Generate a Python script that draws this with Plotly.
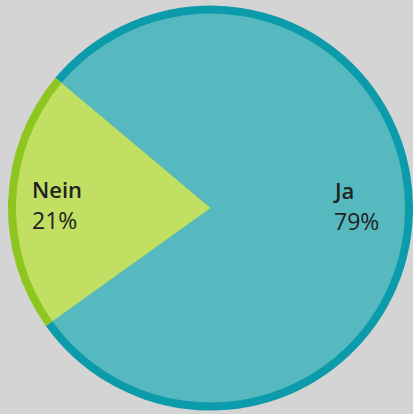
import plotly.graph_objects as go

labels = ["Ja", "Nein"]
values = [79, 21]
fill_colors = ["#55b9bf", "#c0df63"]
ring_colors = ["#0b9baa", "#8ec620"]
name_pos = [(331, 173), (30, 171.5)]   # pixel left/top of name text boxes
pct_pos = [(332, 203), (30, 202)]      # pixel left/top of percent text boxes

W, H = 413, 414
cx, cy = 210.5, 208.0
R_out, ring = 202.5, 8.0
R_in = R_out - ring


def dom(r):
    x0, x1 = (cx - r) / W, min((cx + r) / W, 1.0)
    y0, y1 = 1 - (cy + r) / H, 1 - (cy - r) / H
    return dict(x=[max(x0, 0), x1], y=[max(y0, 0), min(y1, 1)])


common = dict(labels=labels, values=values, sort=False, direction="clockwise",
              rotation=-50, textinfo="none", hoverinfo="label+percent",
              showlegend=False)

fig = go.Figure()
fig.add_trace(go.Pie(**common, domain=dom(R_out),
                     marker=dict(colors=ring_colors, line=dict(width=0))))
fig.add_trace(go.Pie(**common, domain=dom(R_in),
                     marker=dict(colors=fill_colors, line=dict(width=0))))

total = sum(values)
for lab, val, (nx, ny), (px, py) in zip(labels, values, name_pos, pct_pos):
    fig.add_annotation(
        x=nx / W, y=1 - ny / H, xref="paper", yref="paper",
        xanchor="left", yanchor="top", align="left", showarrow=False,
        text=f"<span style='font-weight:600'>{lab}</span>",
        font=dict(family="Open Sans", size=22, color="#222222"),
    )
    fig.add_annotation(
        x=px / W, y=1 - py / H, xref="paper", yref="paper",
        xanchor="left", yanchor="top", align="left", showarrow=False,
        text=f"{round(100 * val / total)}%",
        font=dict(family="Open Sans", size=23, color="#222222"),
    )

fig.update_layout(width=W, height=H, margin=dict(l=0, r=0, t=0, b=0),
                  paper_bgcolor="#d4d4d4", plot_bgcolor="#d4d4d4")
fig.write_html("out.html", config={"displayModeBar": False},
               post_script="document.body.style.margin='0';document.body.style.background='#d4d4d4';")
